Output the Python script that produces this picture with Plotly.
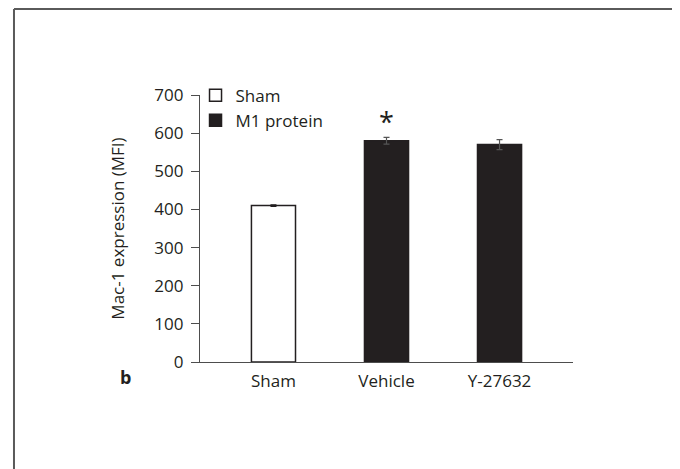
import plotly.graph_objects as go

# Data
categories = ["Sham", "Vehicle", "Y-27632"]
sham_cats = ["Sham"]
sham_vals = [410]
sham_err = [2]
m1_cats = ["Vehicle", "Y-27632"]
m1_vals = [580, 570]
m1_err = [9, 13]
sig_cats = ["Vehicle"]
y_ticks = [0, 100, 200, 300, 400, 500, 600, 700]

INK = "#231f20"
AXIS = "#4d4d4d"
FONT = "Open Sans, sans-serif"
FS = 17

fig = go.Figure()
fig.add_trace(go.Bar(
    x=sham_cats, y=sham_vals, name="Sham", width=0.39,
    marker=dict(color="white", line=dict(color=INK, width=1.5)),
    error_y=dict(type="data", array=sham_err, visible=True, color=INK, thickness=1.2, width=3),
))
fig.add_trace(go.Bar(
    x=m1_cats, y=m1_vals, name="M1 protein", width=0.39,
    marker=dict(color=INK, line=dict(color=INK, width=1.5)),
    error_y=dict(type="data", array=m1_err, visible=True, color="#555555", thickness=1.2, width=3),
))

# significance marker
for c in sig_cats:
    i = m1_cats.index(c)
    fig.add_annotation(x=c, y=m1_vals[i] + m1_err[i], xref="x", yref="y",
                       text="*", showarrow=False, yanchor="bottom", yshift=-5,
                       font=dict(family=FONT, size=27, color=INK))

# panel label
fig.add_annotation(x=-0.201, y=-0.058, xref="paper", yref="paper", text="<b>b</b>",
                   showarrow=False, xanchor="center", yanchor="middle",
                   font=dict(family=FONT, size=18, color=INK))

# outer frame (left, top, right)
frame = dict(color="#5a5a5a", width=2)
fig.add_shape(type="line", xref="paper", yref="paper", x0=-0.4987, x1=-0.4987, y0=1.322, y1=-0.45, line=frame)
fig.add_shape(type="line", xref="paper", yref="paper", x0=-0.4987, x1=1.2761, y0=1.322, y1=1.322, line=frame)
fig.add_shape(type="line", xref="paper", yref="paper", x0=1.2761, x1=1.2761, y0=1.322, y1=-0.45, line=frame)

fig.update_layout(
    width=680, height=469,
    margin=dict(l=192, r=115, t=87, b=115),
    paper_bgcolor="white", plot_bgcolor="white",
    barmode="overlay",
    font=dict(family=FONT, size=FS, color=INK),
    showlegend=True,
    legend=dict(x=-0.012, y=1.065, xanchor="left", yanchor="top",
                bgcolor="rgba(0,0,0,0)", font=dict(family=FONT, size=FS, color=INK),
                tracegroupgap=0, itemwidth=30),
    xaxis=dict(categoryorder="array", categoryarray=categories, range=[-0.65, 2.65],
               showline=True, linecolor=AXIS, linewidth=1.2, ticks="", showgrid=False,
               zeroline=False, ticklabelstandoff=3,
               tickfont=dict(family=FONT, size=FS, color=INK)),
    yaxis=dict(range=[0, 700], tickvals=y_ticks, showline=True, linecolor=AXIS, linewidth=1.2,
               ticks="outside", ticklen=8, tickcolor=AXIS, tickwidth=1.2, showgrid=False,
               zeroline=False, ticklabelstandoff=4,
               title=dict(text="Mac-1 expression (MFI)", standoff=25,
                          font=dict(family=FONT, size=FS, color=INK)),
               tickfont=dict(family=FONT, size=FS, color=INK)),
)

fig.write_html("out.html")
